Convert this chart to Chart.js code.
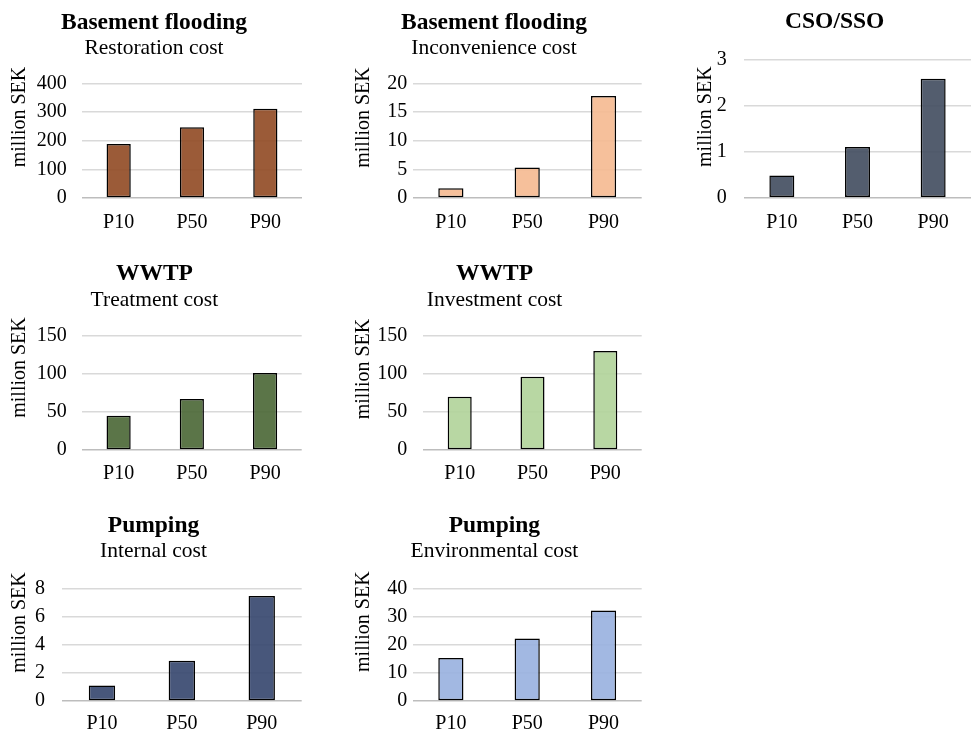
<!DOCTYPE html>
<html>
<head>
<meta charset="utf-8">
<script src="https://cdn.jsdelivr.net/npm/chart.js@4"></script>
<style>
  html, body { margin: 0; padding: 0; background: #fff; }
  body { position: relative; width: 971px; height: 734px; overflow: hidden; }
  canvas { position: absolute; }
</style>
</head>
<body>
<script>
// Percentile categories shared by every panel
const categories = ['P10', 'P50', 'P90'];

// Cost estimates, million SEK
const restorationCost   = [188, 247, 311];
const inconvenienceCost = [1.7, 5.3, 17.8];
const csoSsoCost        = [0.48, 1.1, 2.58];
const treatmentCost     = [45, 67, 101];
const investmentCost    = [70, 96, 130];
const internalCost      = [1.1, 2.85, 7.45];
const environmentalCost = [15.3, 22.2, 32.1];

// Y-axis tick labels for each panel
const restorationTicks   = [0, 100, 200, 300, 400];
const inconvenienceTicks = [0, 5, 10, 15, 20];
const csoSsoTicks        = [0, 1, 2, 3];
const treatmentTicks     = [0, 50, 100, 150];
const investmentTicks    = [0, 50, 100, 150];
const internalTicks      = [0, 2, 4, 6, 8];
const environmentalTicks = [0, 10, 20, 30, 40];

const FONT = '"Liberation Serif", "Times New Roman", serif';
const TITLE_SIZE = 23.5;
const SUB_SIZE = 21.5;
const AXIS_SIZE = 20;
const AXIS_LH = 1.2;

// Panel layout: box = canvas [x, y, w, h]; area = plot [left, top, right, bottom] (page px)
const panels = [
  { title: 'Basement flooding', subtitle: 'Restoration cost', values: restorationCost, ticks: restorationTicks,
    color: 'rgba(144,73,34,0.9)', box: [0, 0, 330, 245], area: [82, 83.3, 302, 198],
    titleX: 154, titleY: 23, subY: 48.3, yTitle: [20, 117], tickPad: 15.3, xLabelY: 221.4 },
  { title: 'Basement flooding', subtitle: 'Inconvenience cost', values: inconvenienceCost, ticks: inconvenienceTicks,
    color: 'rgba(245,185,144,0.9)', box: [330, 0, 330, 245], area: [412.7, 83.3, 641.7, 198],
    titleX: 494, titleY: 23, subY: 48.3, yTitle: [363.3, 117.5], tickPad: 5.4, xLabelY: 221.4 },
  { title: 'CSO/SSO', subtitle: null, values: csoSsoCost, ticks: csoSsoTicks,
    color: 'rgba(64,75,94,0.9)', box: [660, 0, 311, 245], area: [744, 59.3, 971, 197.7],
    titleX: 834.7, titleY: 22.2, subY: null, yTitle: [705.5, 116.7], tickPad: 17.3, xLabelY: 222 },
  { title: 'WWTP', subtitle: 'Treatment cost', values: treatmentCost, ticks: treatmentTicks,
    color: 'rgba(73,102,52,0.9)', box: [0, 245, 330, 250], area: [82, 335.7, 301.7, 450],
    titleX: 154.4, titleY: 274, subY: 300, yTitle: [20, 367.5], tickPad: 15.3, xLabelY: 473 },
  { title: 'WWTP', subtitle: 'Investment cost', values: investmentCost, ticks: investmentTicks,
    color: 'rgba(176,211,153,0.9)', box: [330, 245, 330, 250], area: [423.3, 335.7, 641.7, 450],
    titleX: 494.5, titleY: 274, subY: 300, yTitle: [364, 369], tickPad: 16, xLabelY: 473 },
  { title: 'Pumping', subtitle: 'Internal cost', values: internalCost, ticks: internalTicks,
    color: 'rgba(52,69,109,0.9)', box: [0, 495, 330, 239], area: [62, 588.3, 301.7, 701],
    titleX: 153.5, titleY: 526, subY: 551.7, yTitle: [20, 622.5], tickPad: 17, xLabelY: 722.5 },
  { title: 'Pumping', subtitle: 'Environmental cost', values: environmentalCost, ticks: environmentalTicks,
    color: 'rgba(152,176,223,0.9)', box: [330, 495, 330, 239], area: [412.7, 588.3, 641.7, 701],
    titleX: 494.4, titleY: 526, subY: 551.7, yTitle: [364, 621.7], tickPad: 5.4, xLabelY: 722.5 }
];

// Rotated "million SEK" label placed beside each value axis
const yTitlePlugin = {
  id: 'yTitle',
  afterDraw(chart, args, opts) {
    const ctx = chart.ctx;
    ctx.save();
    ctx.translate(opts.x, opts.y);
    ctx.rotate(-Math.PI / 2);
    ctx.font = AXIS_SIZE + 'px ' + FONT;
    ctx.fillStyle = '#000';
    ctx.textAlign = 'center';
    ctx.textBaseline = 'middle';
    ctx.fillText(opts.text, 0, 0);
    ctx.restore();
  }
};

panels.forEach(p => {
  const [bx, by, bw, bh] = p.box;
  const [al, at, ar, ab] = p.area;
  const canvas = document.createElement('canvas');
  canvas.width = bw;
  canvas.height = bh;
  canvas.style.left = bx + 'px';
  canvas.style.top = by + 'px';
  canvas.style.width = bw + 'px';
  canvas.style.height = bh + 'px';
  document.body.appendChild(canvas);

  const padL = 2 * p.titleX - ar - bx;
  const padR = bx + bw - ar;
  const titleTop = p.titleY - by - TITLE_SIZE / 2;
  let titleCfg, subCfg;
  if (p.subtitle) {
    const subTop = (p.subY - SUB_SIZE / 2) - (p.titleY + TITLE_SIZE / 2);
    const subBottom = at - (p.subY + SUB_SIZE / 2);
    titleCfg = { display: true, text: p.title, color: '#000',
      font: { family: FONT, size: TITLE_SIZE, weight: 'bold', lineHeight: 1 },
      padding: { top: titleTop, bottom: 0 } };
    subCfg = { display: true, text: p.subtitle, color: '#000',
      font: { family: FONT, size: SUB_SIZE, weight: 'normal', lineHeight: 1 },
      padding: { top: subTop, bottom: subBottom } };
  } else {
    titleCfg = { display: true, text: p.title, color: '#000',
      font: { family: FONT, size: TITLE_SIZE, weight: 'bold', lineHeight: 1 },
      padding: { top: titleTop, bottom: at - (p.titleY + TITLE_SIZE / 2) } };
    subCfg = { display: false };
  }

  const t = p.ticks;
  new Chart(canvas, {
    type: 'bar',
    data: {
      labels: categories,
      datasets: [{
        data: p.values,
        backgroundColor: p.color,
        borderColor: '#000',
        borderWidth: 1.5,
        borderSkipped: false,
        barPercentage: 0.33,
        categoryPercentage: 1
      }]
    },
    options: {
      responsive: false,
      animation: false,
      events: [],
      layout: { padding: { left: padL, right: padR, top: 0, bottom: 0 } },
      plugins: {
        legend: { display: false },
        tooltip: { enabled: false },
        title: titleCfg,
        subtitle: subCfg,
        yTitle: { text: 'million SEK', x: p.yTitle[0] - bx, y: p.yTitle[1] - by }
      },
      scales: {
        x: {
          grid: { display: false, drawTicks: false },
          border: { display: false },
          ticks: {
            color: '#000',
            font: { family: FONT, size: AXIS_SIZE, lineHeight: AXIS_LH },
            padding: p.xLabelY - ab - AXIS_SIZE * AXIS_LH / 2 + 1,
            maxRotation: 0
          },
          afterFit: s => { s.height = by + bh - ab; }
        },
        y: {
          min: t[0],
          max: t[t.length - 1],
          border: { display: false },
          grid: {
            drawTicks: false,
            lineWidth: 1.5,
            color: c => (c.tick && c.tick.value === 0) ? '#bdbdbd' : '#d9d9d9'
          },
          ticks: {
            stepSize: t[1] - t[0],
            color: '#000',
            font: { family: FONT, size: AXIS_SIZE, lineHeight: AXIS_LH },
            padding: p.tickPad
          },
          afterFit: s => { s.width = al - bx - padL; }
        }
      }
    },
    plugins: [yTitlePlugin]
  });
});
</script>
</body>
</html>
